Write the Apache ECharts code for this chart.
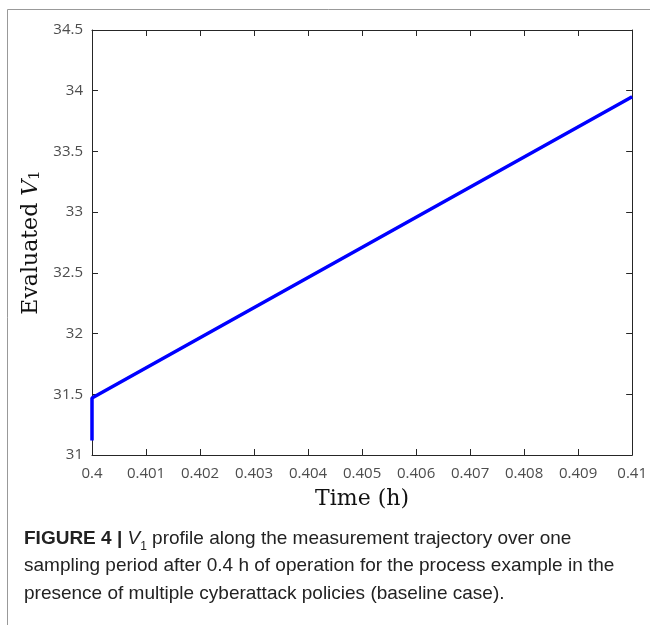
<!DOCTYPE html>
<html>
<head>
<meta charset="utf-8">
<script src="https://cdn.jsdelivr.net/npm/echarts@6/dist/echarts.min.js"></script>
<style>
  html, body { margin: 0; padding: 0; background: #fff; }
  #main { width: 650px; height: 625px; }
</style>
</head>
<body>
<div id="main"></div>
<script>
// time (h) and evaluated V1 along the trajectory
var timeH = [0.4, 0.4, 0.41];
var v1Vals = [31.12, 31.47, 33.95];
var xTicks = [0.4, 0.401, 0.402, 0.403, 0.404, 0.405, 0.406, 0.407, 0.408, 0.409, 0.41];
var yTicks = [31, 31.5, 32, 32.5, 33, 33.5, 34, 34.5];

var chart = echarts.init(document.getElementById('main'));

var axisCol = '#262626';
var labelCol = '#4d4d4d';
var tickFont = '"Open Sans", "Noto Sans", sans-serif';
var serif = '"DejaVu Serif", "Liberation Serif", serif';
var capFont = '"Liberation Sans", Arial, sans-serif';

var pts = timeH.map(function (t, i) { return [t, v1Vals[i]]; });

var option = {
    animation: false,
    grid: { left: 92, right: 15, top: 30, bottom: 170, containLabel: false },
    xAxis: [
        {
            type: 'value',
            min: xTicks[0],
            max: xTicks[xTicks.length - 1],
            interval: 0.001,
            position: 'bottom',
            name: 'Time (h)',
            nameLocation: 'middle',
            nameGap: 33,
            nameTextStyle: { fontFamily: serif, fontSize: 22, color: '#111' },
            axisLine: { show: true, lineStyle: { color: axisCol, width: 1 } },
            axisTick: { show: true, inside: true, length: 6, lineStyle: { color: axisCol } },
            axisLabel: {
                color: labelCol, fontSize: 15, fontFamily: tickFont, margin: 11,
                formatter: function (v) { return String(Math.round(v * 1000) / 1000); }
            },
            splitLine: { show: false }
        },
        {
            type: 'value',
            min: xTicks[0],
            max: xTicks[xTicks.length - 1],
            interval: 0.001,
            position: 'top',
            axisLine: { show: true, onZero: false, lineStyle: { color: axisCol, width: 1 } },
            axisTick: { show: true, inside: true, length: 6, lineStyle: { color: axisCol } },
            axisLabel: { show: false },
            splitLine: { show: false }
        }
    ],
    yAxis: [
        {
            type: 'value',
            min: yTicks[0],
            max: yTicks[yTicks.length - 1],
            interval: 0.5,
            position: 'left',
            name: '{t|Evaluated }{v|V}{s|1}',
            nameLocation: 'middle',
            nameGap: 46,
            nameRotate: 90,
            nameTextStyle: {
                rich: {
                    t: { fontFamily: serif, fontSize: 22, color: '#111' },
                    v: { fontFamily: serif, fontStyle: 'italic', fontSize: 22, color: '#111' },
                    s: { fontFamily: serif, fontSize: 15, color: '#111', verticalAlign: 'bottom', padding: [8, 0, 0, 0] }
                }
            },
            axisLine: { show: true, lineStyle: { color: axisCol, width: 1 } },
            axisTick: { show: true, inside: true, length: 6, lineStyle: { color: axisCol } },
            axisLabel: { color: labelCol, fontSize: 15, fontFamily: tickFont, margin: 9 },
            splitLine: { show: false }
        },
        {
            type: 'value',
            min: yTicks[0],
            max: yTicks[yTicks.length - 1],
            interval: 0.5,
            position: 'right',
            axisLine: { show: true, onZero: false, lineStyle: { color: axisCol, width: 1 } },
            axisTick: { show: true, inside: true, length: 6, lineStyle: { color: axisCol } },
            axisLabel: { show: false },
            splitLine: { show: false }
        }
    ],
    series: [
        {
            type: 'line',
            xAxisIndex: 0,
            yAxisIndex: 0,
            data: pts,
            showSymbol: false,
            lineStyle: { color: '#0000ff', width: 3.5 },
            clip: false
        }
    ],
    graphic: [
        {
            type: 'line',
            shape: { x1: 7.5, y1: 9.5, x2: 650, y2: 9.5 },
            style: { stroke: '#999', lineWidth: 1 }
        },
        {
            type: 'line',
            shape: { x1: 7.5, y1: 9.5, x2: 7.5, y2: 625 },
            style: { stroke: '#999', lineWidth: 1 }
        },
        {
            type: 'text',
            left: 24,
            top: 525,
            style: {
                text: '{b|FIGURE 4 | }{i|V}{s|1}{n| profile along the measurement trajectory over one}\n' +
                      '{n|sampling period after 0.4 h of operation for the process example in the}\n' +
                      '{n|presence of multiple cyberattack policies (baseline case).}',
                lineHeight: 27.5,
                rich: {
                    b: { fontFamily: capFont, fontWeight: 'bold', fontSize: 19, fill: '#222', lineHeight: 27.5 },
                    i: { fontFamily: capFont, fontStyle: 'italic', fontSize: 19, fill: '#222', lineHeight: 27.5 },
                    s: { fontFamily: capFont, fontSize: 12, fill: '#222', verticalAlign: 'bottom', lineHeight: 27.5, padding: [6, 0, 0, 0] },
                    n: { fontFamily: capFont, fontSize: 19, fill: '#222', lineHeight: 27.5 }
                }
            }
        }
    ]
};

chart.setOption(option);
window.addEventListener('resize', function () { chart.resize(); });
</script>
</body>
</html>
